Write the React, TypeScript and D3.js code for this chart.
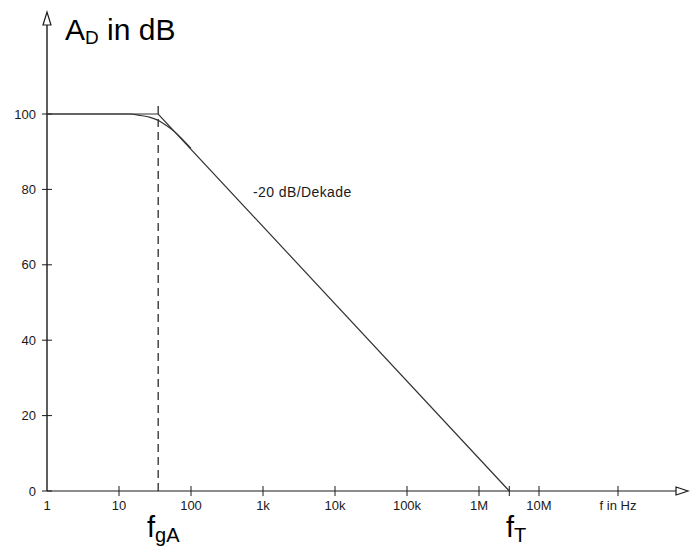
import React from "react";
import * as d3 from "d3";

// frequency axis (log, Hz) and gain axis (dB)
const freqTicks = [1, 10, 100, 1e3, 1e4, 1e5, 1e6, 1e7, 1e8];
const freqLabels = ["1", "10", "100", "1k", "10k", "100k", "1M", "10M", "f in Hz"];
const dbTicks = [0, 20, 40, 60, 80, 100];

const fgA = 35;
const fT = 3.2e6;

// asymptotic (Bode) approximation
const asymF = [1, fgA, fT];
const asymDb = [100, 100, 0];

const realF = [1, 14, 20, 27, 35, 45, 60, 100];
const realDb = [100, 100, 99.6, 99.1, 98.3, 97.0, 95.2, 90.9];

const W = 692;
const H = 547;
const font = "'Liberation Sans', Arial, sans-serif";
const ink = "#1a1a1a";

export default function App() {
  // scan is slightly uneven per decade -> piecewise log scale
  const x = d3.scaleLog().domain([1, 1e6, 1e7, 1e8]).range([47, 479, 539, 618]);
  const y = d3.scaleLinear().domain([0, 100]).range([491, 114]);

  const asym = d3.zip(asymF, asymDb) as [number, number][];
  const real = d3.zip(realF, realDb) as [number, number][];
  const asymPath = d3.line<[number, number]>().x((d) => x(d[0])).y((d) => y(d[1]))(asym);
  const realPath = d3
    .line<[number, number]>()
    .x((d) => x(d[0]))
    .y((d) => y(d[1]))
    .curve(d3.curveMonotoneX)(real);

  const x0 = x(1);
  const y0 = y(0);
  const xEnd = 688;
  const yTop = 12;

  return (
    <svg
      width={W}
      height={H}
      style={{ position: "absolute", left: 0, top: 0, background: "#fff" }}
      fontFamily={font}
    >
      {/* axes */}
      <line x1={x0} y1={y0} x2={xEnd - 12} y2={y0} stroke={ink} strokeWidth={1.2} />
      <path
        d={`M${xEnd - 12},${y0 - 4}L${xEnd},${y0}L${xEnd - 12},${y0 + 4}Z`}
        fill="none"
        stroke={ink}
        strokeWidth={1.2}
      />
      <line x1={x0} y1={y0} x2={x0} y2={yTop + 13} stroke={ink} strokeWidth={1.4} />
      <path
        d={`M${x0 - 4},${yTop + 13}L${x0},${yTop}L${x0 + 4},${yTop + 13}Z`}
        fill="none"
        stroke={ink}
        strokeWidth={1.2}
      />

      {/* y ticks */}
      {dbTicks.map((d) => (
        <g key={d} transform={`translate(0,${y(d)})`}>
          <line x1={x0 - 5} x2={x0 + 5} stroke={ink} strokeWidth={1} />
          <text x={x0 - 11} dy="0.35em" textAnchor="end" fontSize={13} fill={ink}>
            {d}
          </text>
        </g>
      ))}

      {/* x ticks */}
      {freqTicks.map((f, i) => (
        <g key={f} transform={`translate(${x(f)},0)`}>
          {i > 0 && <line y1={y0 - 5} y2={y0 + 5} stroke={ink} strokeWidth={1} />}
          <text y={y0 + 19} textAnchor="middle" fontSize={13} fill={ink}>
            {freqLabels[i]}
          </text>
        </g>
      ))}
      <line x1={x(fT)} x2={x(fT)} y1={y0 - 5} y2={y0 + 5} stroke={ink} strokeWidth={1} />

      {/* corner frequency marker */}
      <line
        x1={x(fgA)}
        x2={x(fgA)}
        y1={y0}
        y2={y(100) - 10}
        stroke={ink}
        strokeWidth={1.2}
        strokeDasharray="8,5"
      />

      {/* curves */}
      <path d={asymPath ?? ""} fill="none" stroke="#333" strokeWidth={1.2} />
      <path d={realPath ?? ""} fill="none" stroke="#333" strokeWidth={1.2} />

      {/* labels */}
      <text x={253} y={197} fontSize={14} letterSpacing={0.4} fill={ink}>
        -20 dB/Dekade
      </text>
      <text x={65} y={40} fontSize={30} fill="#000">
        A<tspan fontSize={19} dy={4}>D</tspan>
        <tspan dy={-4}> in dB</tspan>
      </text>
      <text x={147} y={537} fontSize={29} fill="#000">
        f<tspan fontSize={20} dy={5}>gA</tspan>
      </text>
      <text x={506} y={537} fontSize={29} fill="#000">
        f<tspan fontSize={20} dy={5}>T</tspan>
      </text>
    </svg>
  );
}
